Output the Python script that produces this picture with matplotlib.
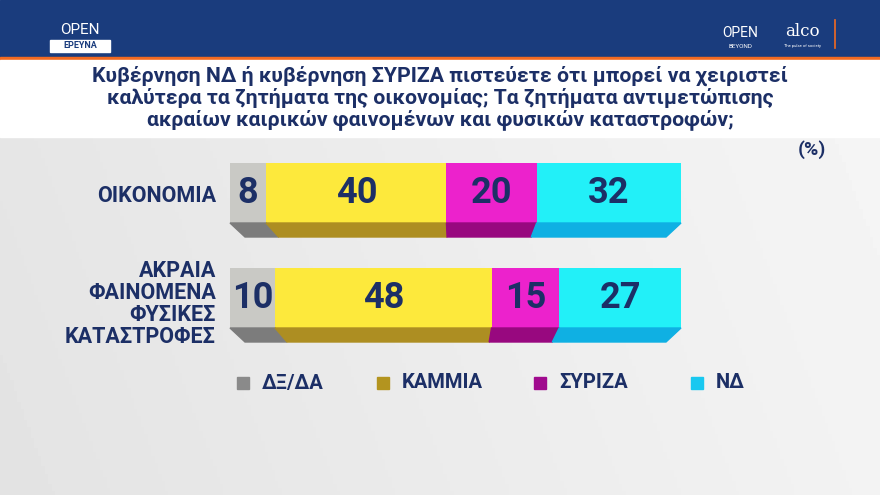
import numpy as np
import matplotlib.pyplot as plt
from matplotlib.patches import Polygon, Rectangle

# Data
categories = ['ΟΙΚΟΝΟΜΙΑ', 'ΑΚΡΑΙΑ\nΦΑΙΝΟΜΕΝΑ\nΦΥΣΙΚΕΣ\nΚΑΤΑΣΤΡΟΦΕΣ']
series = ['ΔΞ/ΔΑ', 'ΚΑΜΜΙΑ', 'ΣΥΡΙΖΑ', 'ΝΔ']
values = [[8, 40, 20, 32],
          [10, 48, 15, 27]]
title = ('Κυβέρνηση ΝΔ ή κυβέρνηση ΣΥΡΙΖΑ πιστεύετε ότι μπορεί να χειριστεί\n'
         'καλύτερα τα ζητήματα της οικονομίας; Τα ζητήματα αντιμετώπισης\n'
         'ακραίων καιρικών φαινομένων και φυσικών καταστροφών;')

top_colors = ['#c9c9c5', '#fde93c', '#ec22cc', '#22f0f8']
side_colors = ['#7c7c7c', '#ad8e22', '#98087f', '#0fb0e3']
legend_colors = ['#8a8a8a', '#b3941f', '#a00a8e', '#19c8f0']
navy = '#1c2f66'

plt.rcParams['font.family'] = ['Roboto', 'DejaVu Sans']

fig = plt.figure(figsize=(8.8, 4.95), dpi=100)
ax = fig.add_axes([0, 0, 1, 1])
ax.set_xlim(0, 880)
ax.set_ylim(495, 0)
ax.axis('off')

# background
grad = np.linspace(0, 1, 256)
bg = np.outer(np.linspace(1, 0.85, 100), np.ones(256)) * 0.06 + 0.84
bg = bg + 0.06 * grad[None, :]
ax.imshow(bg, cmap='gray', vmin=0, vmax=1, extent=(0, 880, 495, 137), aspect='auto', zorder=0)
ax.add_patch(Rectangle((0, 0), 880, 57, color='#1a3c7d', zorder=1))
ax.add_patch(Rectangle((0, 57), 880, 3, color='#f26a21', zorder=1))
ax.add_patch(Rectangle((0, 60), 880, 77, color='white', zorder=1))

# logos
ax.text(80, 30, 'OPEN', color='white', fontsize=11, ha='center', va='center', zorder=2)
ax.add_patch(Rectangle((50, 40), 60, 12, color='white', zorder=2))
ax.text(80, 46, 'ΕΡΕΥΝΑ', color='#1a3c7d', fontsize=6.5, fontweight='bold', ha='center', va='center', zorder=3)
ax.text(740, 33, 'OPEN', color='white', fontsize=10, ha='center', va='center', zorder=2)
ax.text(740, 46, 'BEYOND', color='white', fontsize=4.5, ha='center', va='center', zorder=2)
ax.text(802, 32, 'alco', color='white', fontsize=12, family='DejaVu Serif', ha='center', va='center', zorder=2)
ax.text(802, 46, 'The pulse of society', color='white', fontsize=3, ha='center', va='center', zorder=2)
ax.plot([835, 835], [20, 48], color='#f26a21', lw=1.2, zorder=2)

ax.text(440, 98, title, color=navy, fontsize=15.3, fontweight='bold', ha='center', va='center',
        linespacing=1.12, zorder=2)
ax.text(812, 150, '(%)', color=navy, fontsize=14, fontweight='bold', ha='center', va='center', zorder=2)

# bars
x0, scale = 230, 4.51
rows_y = [193, 298]
bar_h = 60
depth = 14
for r, (vals, yc) in enumerate(zip(values, rows_y)):
    lefts = x0 + scale * np.concatenate([[0], np.cumsum(vals)[:-1]])
    widths = scale * np.array(vals)
    ax.barh([yc], widths, left=lefts, height=bar_h, color=top_colors, zorder=3)
    y_bot = yc + bar_h / 2
    total = scale * sum(vals)
    for i, (l, w) in enumerate(zip(lefts, widths)):
        def shift(x):
            return x0 + 15 + (x - x0) * (total - 30) / total
        poly = [(l, y_bot), (l + w, y_bot), (shift(l + w), y_bot + depth), (shift(l), y_bot + depth)]
        ax.add_patch(Polygon(poly, closed=True, color=side_colors[i], zorder=3))
        ax.text(l + w / 2, yc, str(vals[i]), color=navy, fontsize=26, fontweight='bold',
                ha='center', va='center', zorder=4)
    ax.text(216, yc + (6 if r == 1 else 3), categories[r], color=navy, fontsize=15.5, fontweight='bold',
            ha='right', va='center', linespacing=1.0, zorder=4)

# legend
leg_x = [243, 383, 540, 697]
for x, name, c in zip(leg_x, series, legend_colors):
    ax.add_patch(Rectangle((x - 6, 377), 12, 12, color=c, zorder=4))
    ax.text(x + 19, 383, name, color=navy, fontsize=14.5, fontweight='bold', ha='left', va='center', zorder=4)

fig.savefig('out.png', dpi=100)
